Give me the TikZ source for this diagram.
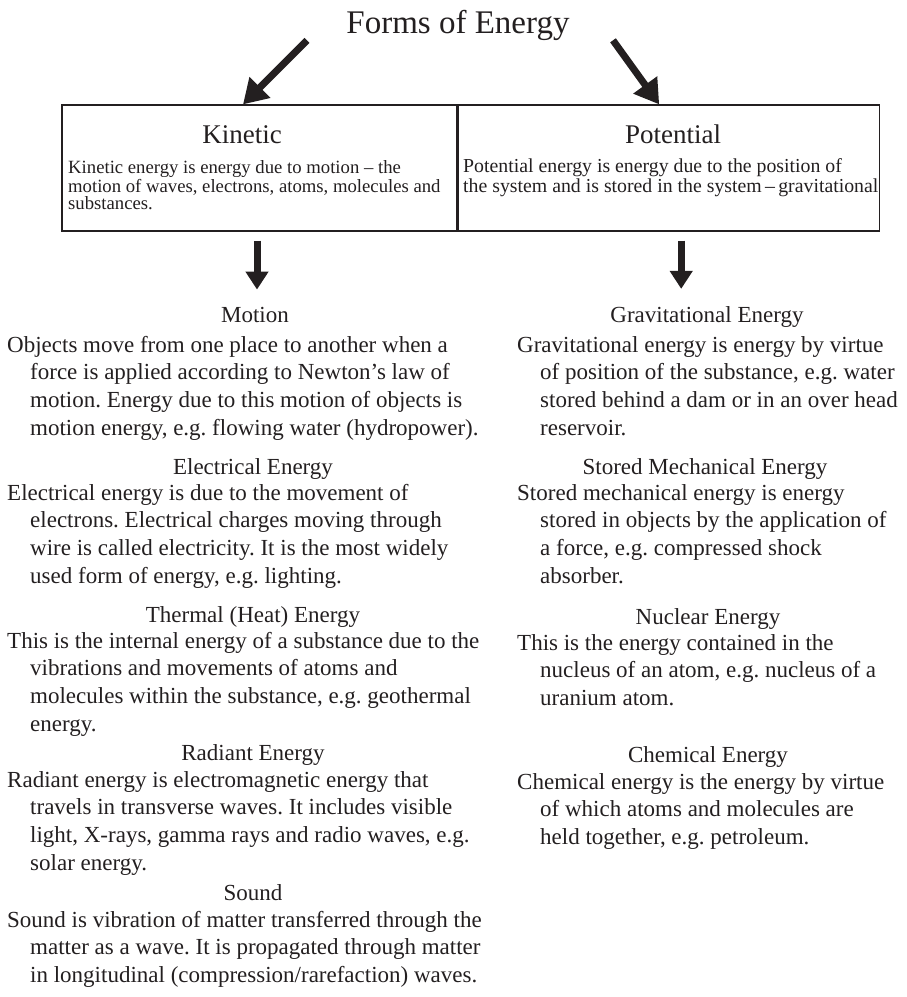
\documentclass[tikz,border=0pt]{standalone}
\usepackage{fontspec}
\setmainfont{Liberation Serif}
\usetikzlibrary{arrows.meta, positioning}
\definecolor{ink}{HTML}{231F20}
\frenchspacing

\begin{document}
\begin{tikzpicture}[x=1pt, y=-1pt,
        formbox/.style={rectangle, draw=ink, line width=1.2pt, inner sep=0pt, minimum height=126pt},
        formname/.style={anchor=base, inner sep=0pt, text=ink, font=\fontsize{27}{27}\selectfont},
        boxtext/.style={anchor=base west, inner sep=0pt, align=left, text=ink, font=\fontsize{18.7}{17}\selectfont},
        sechead/.style={anchor=base, inner sep=0pt, text=ink, font=\fontsize{23}{28}\selectfont},
        secbody/.style={anchor=base west, inner sep=0pt, align=left, text=ink, font=\fontsize{23}{27.8}\selectfont},
        bigarrow/.style={draw=ink, line width=7pt, -{Triangle[length=24pt, width=28pt]}},
        downarrow/.style={draw=ink, line width=7pt, -{Triangle[length=18pt, width=22pt]}}
    ]
        \useasboundingbox (0,0) rectangle (907,997);
        \def\hang{\hspace*{23pt}}

        % Title and the two main forms
        \node[anchor=base, inner sep=0pt, text=ink, font=\fontsize{33}{33}\selectfont] (title) at (458,33) {Forms of Energy};
        \node[formbox, minimum width=395pt] (kinetic) at (259.5,168) {};
        \node[formbox, minimum width=421pt, right=0pt of kinetic] (potential) {};

        \node[formname] (kinname) at (242,143) {Kinetic};
        \node[formname] (potname) at (673,143) {Potential};
        % multi-line nodes sit on the baseline of their last line
        \node[boxtext] (kintext) at (68,209) {
            Kinetic energy is energy due to motion -- the\\
            motion of waves, electrons, atoms, molecules and\\
            substances.
        };
        \node[boxtext, font=\fontsize{19.8}{17}\selectfont] (pottext) at (463,192) {
            Potential energy is energy due to the position of\\
            the system and is stored in the system\,--\,gravitational
        };

        % Kinetic column
        \node[sechead] (motion) at (255,322) {Motion};
        \node[secbody] (motiontext) at (7,435.4) {
            Objects move from one place to another when a\\
            \hang force is applied according to Newton’s law of\\
            \hang motion. Energy due to this motion of objects is\\
            \hang motion energy, e.g. flowing water (hydropower).
        };
        \node[sechead] (electrical) at (253,474) {Electrical Energy};
        \node[secbody] (electricaltext) at (7,583.4) {
            Electrical energy is due to the movement of\\
            \hang electrons. Electrical charges moving through\\
            \hang wire is called electricity. It is the most widely\\
            \hang used form of energy, e.g. lighting.
        };
        \node[sechead] (thermal) at (253,622) {Thermal (Heat) Energy};
        \node[secbody] (thermaltext) at (7,731.4) {
            This is the internal energy of a substance due to the\\
            \hang vibrations and movements of atoms and\\
            \hang molecules within the substance, e.g. geothermal\\
            \hang energy.
        };
        \node[sechead] (radiant) at (253,760) {Radiant Energy};
        \node[secbody] (radianttext) at (7,870.4) {
            Radiant energy is electromagnetic energy that\\
            \hang travels in transverse waves. It includes visible\\
            \hang light, X-rays, gamma rays and radio waves, e.g.\\
            \hang solar energy.
        };
        \node[sechead] (sound) at (253,900) {Sound};
        \node[secbody] (soundtext) at (7,982.6) {
            Sound is vibration of matter transferred through the\\
            \hang matter as a wave. It is propagated through matter\\
            \hang in longitudinal (compression/rarefaction) waves.
        };

        % Potential column
        \node[sechead] (gravity) at (707,322) {Gravitational Energy};
        \node[secbody] (gravitytext) at (517,435.4) {
            Gravitational energy is energy by virtue\\
            \hang of position of the substance, e.g. water\\
            \hang stored behind a dam or in an over head\\
            \hang reservoir.
        };
        \node[sechead] (mechanical) at (705,474) {Stored Mechanical Energy};
        \node[secbody] (mechanicaltext) at (517,583.4) {
            Stored mechanical energy is energy\\
            \hang stored in objects by the application of\\
            \hang a force, e.g. compressed shock\\
            \hang absorber.
        };
        \node[sechead] (nuclear) at (708,624) {Nuclear Energy};
        \node[secbody] (nucleartext) at (517,705.6) {
            This is the energy contained in the\\
            \hang nucleus of an atom, e.g. nucleus of a\\
            \hang uranium atom.
        };
        \node[sechead] (chemical) at (708,762) {Chemical Energy};
        \node[secbody] (chemicaltext) at (517,844.6) {
            Chemical energy is the energy by virtue\\
            \hang of which atoms and molecules are\\
            \hang held together, e.g. petroleum.
        };

        % Arrows
        \draw[bigarrow] ([xshift=-151pt]title.south) -- ([xshift=-16.5pt]kinetic.north);
        \draw[bigarrow] ([xshift=155pt]title.south) -- ([xshift=-9.5pt]potential.north);
        \draw[downarrow, shorten <=9pt, shorten >=17pt] ([xshift=-2.5pt]kinetic.south) -- ([xshift=-2.5pt]kinetic.south |- motion.north);
        \draw[downarrow, shorten <=9pt, shorten >=17pt] ([xshift=12.5pt]potential.south) -- ([xshift=12.5pt]potential.south |- gravity.north);

    \end{tikzpicture}
\end{document}
